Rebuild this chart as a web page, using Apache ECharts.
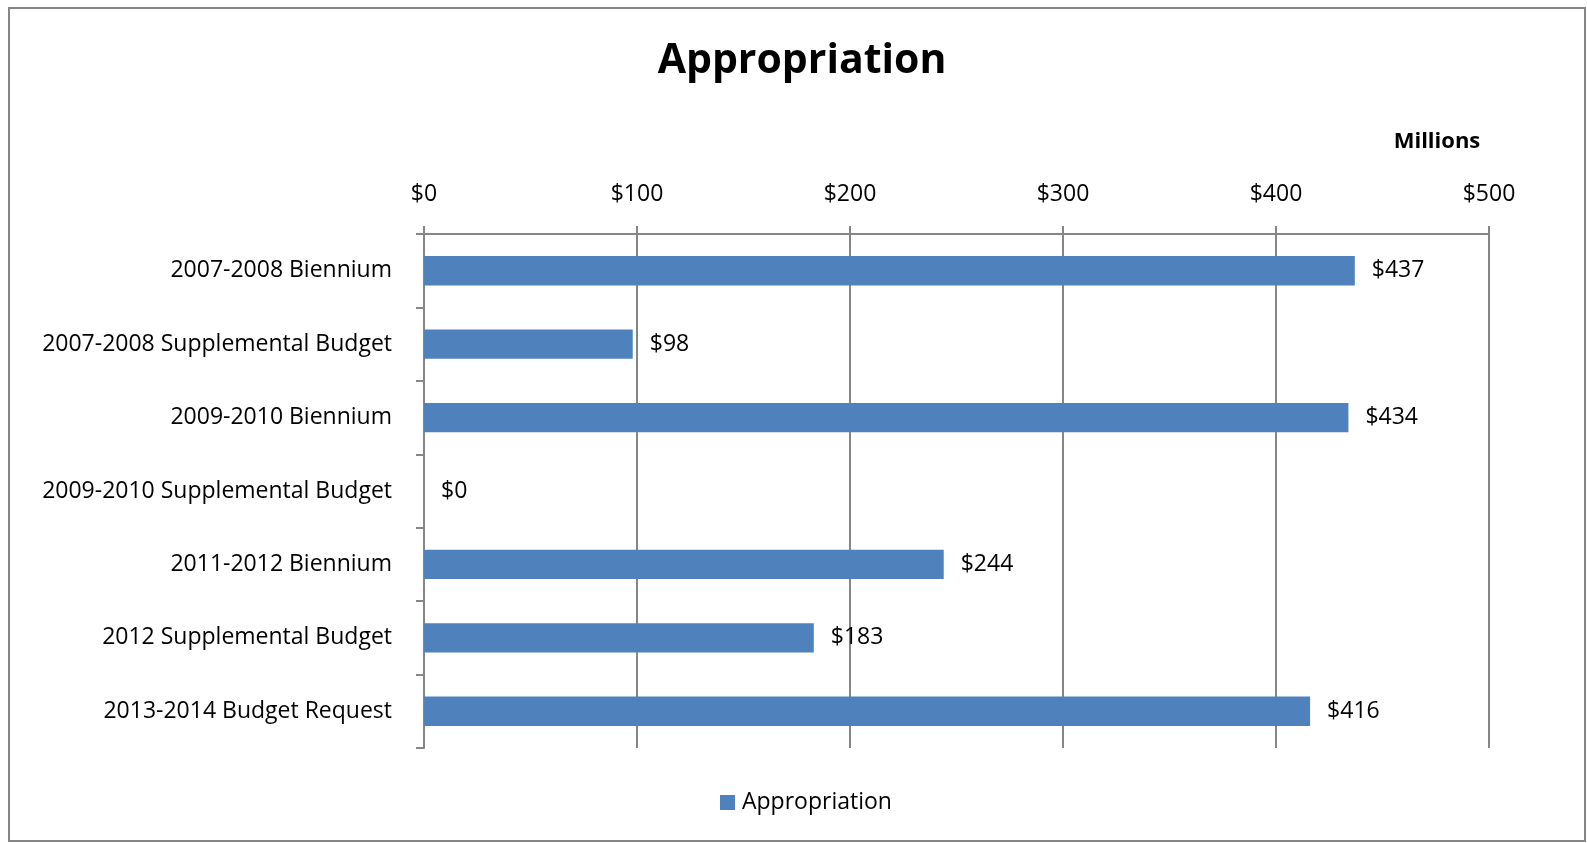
<!DOCTYPE html>
<html>
<head>
<meta charset="utf-8">
<script src="https://cdn.jsdelivr.net/npm/echarts@6/dist/echarts.min.js"></script>
<style>
html,body{margin:0;padding:0;background:#fff;}
#chart{width:1587px;height:843px;}
</style>
</head>
<body>
<div id="chart"></div>
<script>
const categories = [
  "2007-2008 Biennium",
  "2007-2008 Supplemental Budget",
  "2009-2010 Biennium",
  "2009-2010 Supplemental Budget",
  "2011-2012 Biennium",
  "2012 Supplemental Budget",
  "2013-2014 Budget Request"
];
const appropriation = [437, 98, 434, 0, 244, 183, 416];
const seriesName = "Appropriation";
const axisMin = 0, axisMax = 500, axisStep = 100;

const FONT = '"Open Sans", "Noto Sans", sans-serif';
const GRAY = '#868686';
const chart = echarts.init(document.getElementById('chart'));
chart.setOption({
  backgroundColor: '#ffffff',
  animation: false,
  textStyle: { fontFamily: FONT, color: '#000' },
  title: {
    text: 'Appropriation',
    left: 797, top: 36, textAlign: 'center', padding: 5,
    textStyle: { fontFamily: FONT, fontSize: 41, fontWeight: 'bold', color: '#000' }
  },
  graphic: [
    { type: 'rect', silent: true, z: -1,
      shape: { x: 9, y: 8, width: 1576, height: 833 },
      style: { fill: 'none', stroke: GRAY, lineWidth: 2 } },
    { type: 'text', x: 1437, y: 142,
      style: { text: 'Millions', fontFamily: FONT, fontSize: 22, fontWeight: 'bold', fill: '#000', textAlign: 'center', textVerticalAlign: 'middle' } }
  ],
  legend: {
    data: [seriesName],
    left: 720, top: 791, padding: 0,
    icon: 'rect', itemWidth: 15, itemHeight: 15, itemGap: 10,
    textStyle: { fontFamily: FONT, fontSize: 23, color: '#000', padding: [0, 0, 0, 2] }
  },
  grid: { left: 424, right: 98, top: 234, bottom: 95, containLabel: false },
  xAxis: {
    type: 'value', position: 'top',
    min: axisMin, max: axisMax, interval: axisStep,
    axisLine: { show: true, lineStyle: { color: GRAY, width: 2 } },
    axisTick: { show: true, length: 8, lineStyle: { color: GRAY, width: 2 } },
    splitLine: { show: true, lineStyle: { color: GRAY, width: 2 } },
    axisLabel: { margin: 28, fontFamily: FONT, fontSize: 23, color: '#000', formatter: v => '$' + v }
  },
  yAxis: {
    type: 'category', inverse: true, data: categories,
    axisLine: { show: true, lineStyle: { color: GRAY, width: 2 } },
    axisTick: { show: true, length: 8, interval: 0, lineStyle: { color: GRAY, width: 2 } },
    axisLabel: { margin: 32, fontFamily: FONT, fontSize: 23, color: '#000', interval: 0 }
  },
  series: [{
    name: seriesName, type: 'bar', data: appropriation,
    barCategoryGap: '60%',
    itemStyle: { color: '#4F81BD' },
    label: { show: true, position: 'right', distance: 17, fontFamily: FONT, fontSize: 23, color: '#000', formatter: p => '$' + p.value }
  }]
});
</script>
</body>
</html>
